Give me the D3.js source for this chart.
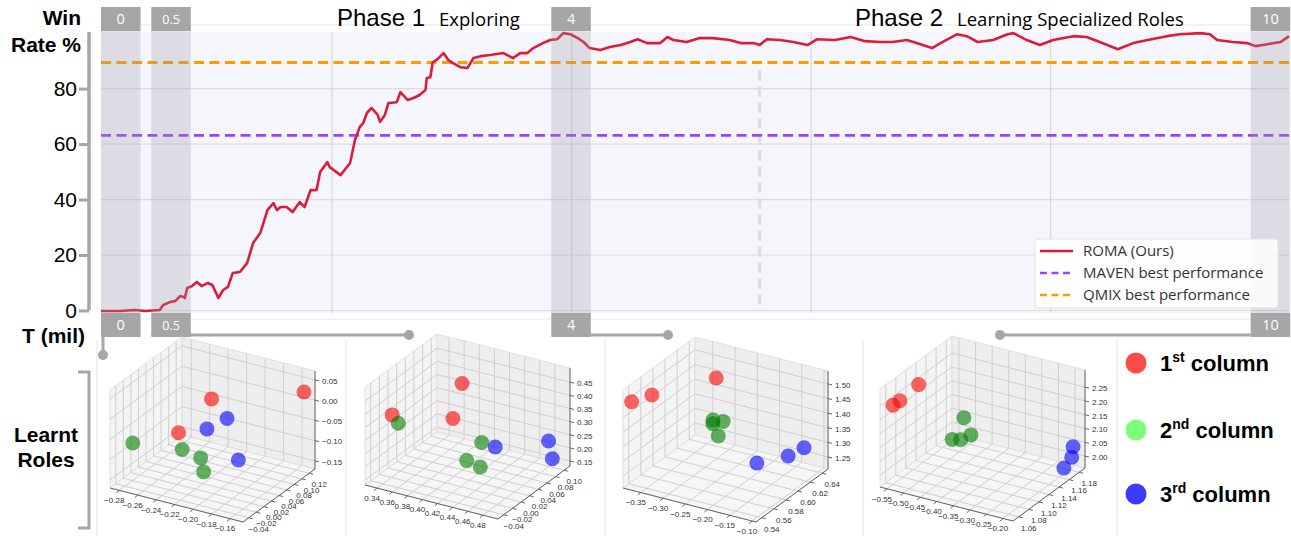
<!DOCTYPE html>
<html>
<head>
<meta charset="utf-8">
<title>ROMA win rate and learnt roles</title>
<script src="https://cdn.jsdelivr.net/npm/d3@7/dist/d3.min.js"></script>
<style>
  body { margin: 0; background: #fff; }
  svg text { font-family: "Liberation Sans", Arial, sans-serif; }
</style>
</head>
<body>
<div id="container"></div>
<script>

    // ---- data ----
    const timeMil = [
        0.07,0.23,0.35,0.44,0.56,0.59,0.65,0.69,0.73,0.76,
        0.77,0.79,0.83,0.87,0.91,0.96,1.00,1.05,1.09,1.13,
        1.17,1.23,1.29,1.34,1.40,1.46,1.51,1.54,1.57,1.62,
        1.67,1.73,1.77,1.82,1.87,1.90,1.96,1.98,2.07,2.15,
        2.19,2.23,2.26,2.29,2.33,2.38,2.40,2.44,2.47,2.54,
        2.57,2.63,2.68,2.73,2.78,2.79,2.82,2.84,2.88,2.93,
        2.97,3.01,3.07,3.13,3.18,3.24,3.32,3.43,3.51,3.57,
        3.63,3.68,3.76,3.82,3.88,3.93,3.99,4.05,4.10,4.15,
        4.24,4.32,4.41,4.49,4.55,4.63,4.74,4.80,4.85,4.96,
        5.07,5.18,5.32,5.41,5.52,5.57,5.63,5.74,5.85,5.97,
        6.05,6.20,6.33,6.45,6.58,6.68,6.80,6.88,7.01,7.08,
        7.22,7.30,7.39,7.52,7.64,7.69,7.80,7.91,8.02,8.19,
        8.30,8.41,8.56,8.69,8.81,8.97,9.08,9.25,9.33,9.39,
        9.52,9.64,9.71,9.81,9.92,9.99
    ];
    const winRate = [
        -0.2,-0.2,0.2,-0.2,0.2,2.0,3.1,3.4,5.2,4.9,
        4.5,8.1,8.8,10.3,8.8,9.9,9.2,4.5,7.4,8.5,
        13.5,13.9,17.1,24.3,27.9,36.2,38.7,36.2,37.3,37.3,
        35.5,39.1,37.3,43.4,43.4,49.9,53.5,51.7,48.8,53.2,
        61.4,66.1,67.6,71.2,73.0,70.5,68.0,70.5,74.8,75.1,
        78.7,75.9,76.6,77.7,79.5,83.8,84.1,89.5,90.6,92.8,
        90.3,89.2,87.7,87.4,91.0,91.7,92.1,92.8,91.0,92.8,
        92.8,94.6,96.4,97.5,97.8,100.0,99.6,98.2,96.8,94.6,
        93.9,95.0,95.7,96.8,97.8,96.4,96.4,98.6,97.5,96.8,
        98.2,98.2,97.5,96.4,96.4,95.7,97.8,97.5,96.8,95.7,
        97.8,97.5,98.6,97.1,96.8,96.8,97.5,96.4,94.6,96.4,
        99.6,98.9,96.8,97.5,99.6,100.0,97.5,95.7,97.5,98.9,
        98.6,96.8,94.2,96.4,97.5,98.9,99.6,100.0,99.6,97.5,
        96.8,96.4,95.3,96.0,96.8,98.9
    ];
    const mavenBest = 63.1;
    const qmixBest = 89.4;
    const phaseSplit = 5.57;

    const yTickValues = [0, 20, 40, 60, 80];
    const xGridValues = [2, 4, 6, 8];
    const snapshotLabels = ["0", "0.5", "4", "10"];
    const snapshotStart = [0.07, 0.49, 3.83, 9.67];
    const snapshotWidth = 0.33;
    const legendLabels = ["ROMA (Ours)", "MAVEN best performance", "QMIX best performance"];

    // learnt roles at each snapshot: [x, y, z, column]
    const rolesT0 = [
        [-0.150, 0.116, 0.031, 0], [-0.219, 0.040, 0.026, 0], [-0.247, 0.021, -0.061, 0],
        [-0.281, -0.017, -0.080, 1], [-0.243, 0.021, -0.100, 1], [-0.223, 0.021, -0.109, 1], [-0.212, 0.002, -0.124, 1],
        [-0.210, 0.059, -0.030, 2], [-0.224, 0.040, -0.051, 2], [-0.190, 0.040, -0.108, 2]
    ];
    const rolesT05 = [
        [0.386, 0.063, 0.422, 0], [0.341, -0.020, 0.370, 0], [0.383, 0.047, 0.306, 0],
        [0.349, -0.020, 0.344, 1], [0.412, 0.063, 0.217, 1], [0.411, 0.030, 0.187, 1], [0.429, 0.030, 0.176, 1],
        [0.439, 0.047, 0.239, 2], [0.481, 0.097, 0.232, 2], [0.486, 0.097, 0.168, 2]
    ];
    const rolesT4 = [
        [-0.378, 0.536, 1.500, 0], [-0.357, 0.554, 1.504, 0], [-0.294, 0.614, 1.495, 0],
        [-0.285, 0.602, 1.373, 1], [-0.277, 0.596, 1.373, 1], [-0.262, 0.602, 1.377, 1], [-0.265, 0.596, 1.336, 1],
        [-0.170, 0.590, 1.289, 2], [-0.116, 0.602, 1.316, 2], [-0.113, 0.626, 1.309, 2]
    ];
    const rolesT10 = [
        [-0.543, 1.056, 2.252, 0], [-0.533, 1.063, 2.262, 0], [-0.519, 1.091, 2.287, 0],
        [-0.448, 1.134, 2.131, 1], [-0.462, 1.120, 2.067, 1], [-0.436, 1.120, 2.074, 1], [-0.416, 1.127, 2.088, 1],
        [-0.184, 1.177, 2.049, 2], [-0.188, 1.177, 2.010, 2], [-0.201, 1.170, 1.976, 2]
    ];

    // axis limits and ticks of each 3d panel
    const xLims3d = [[-0.290, -0.146], [0.324, 0.500], [-0.390, -0.091], [-0.571, -0.170]];
    const yLims3d = [[-0.0552, 0.1353], [-0.0533, 0.1134], [0.5305, 0.6495], [1.0486, 1.1915]];
    const zLims3d = [[-0.170, 0.072], [0.131, 0.504], [1.209, 1.544], [1.957, 2.312]];
    const xTicks3d = [
        [-0.28, -0.26, -0.24, -0.22, -0.20, -0.18, -0.16],
        [0.34, 0.36, 0.38, 0.40, 0.42, 0.44, 0.46, 0.48],
        [-0.35, -0.30, -0.25, -0.20, -0.15, -0.10],
        [-0.55, -0.50, -0.45, -0.40, -0.35, -0.30, -0.25, -0.20]
    ];
    const yTicks3d = [
        [-0.04, -0.02, 0.00, 0.02, 0.04, 0.06, 0.08, 0.10, 0.12],
        [-0.04, -0.02, 0.00, 0.02, 0.04, 0.06, 0.08, 0.10],
        [0.54, 0.56, 0.58, 0.60, 0.62, 0.64],
        [1.06, 1.08, 1.10, 1.12, 1.14, 1.16, 1.18]
    ];
    const zTicks3d = [
        [-0.15, -0.10, -0.05, 0.00, 0.05],
        [0.15, 0.20, 0.25, 0.30, 0.35, 0.40, 0.45],
        [1.25, 1.30, 1.35, 1.40, 1.45, 1.50],
        [2.00, 2.05, 2.10, 2.15, 2.20, 2.25]
    ];
    const columnLabels = [["1", "st"], ["2", "nd"], ["3", "rd"]];

    // ---- layout ----
    const width = 1291, height = 536;
    const grey = "#a6a6a6";
    const svg = d3.select("#container").append("svg")
        .attr("width", width)
        .attr("height", height);

    const x = d3.scaleLinear().domain([0.07, 9.99]).range([101, 1289]);
    const y = d3.scaleLinear().domain([-0.9, 100.4]).range([313, 32]);

    // faint frame lines
    svg.append("line").attr("x1", 101).attr("x2", 1290).attr("y1", 25).attr("y2", 25)
        .attr("stroke", "#e6e6ea").attr("stroke-width", 1);
    svg.append("line").attr("x1", 101).attr("x2", 1290).attr("y1", 319).attr("y2", 319)
        .attr("stroke", "#e6e6ea").attr("stroke-width", 1);

    // plot background
    svg.append("rect")
        .attr("x", x.range()[0]).attr("y", y.range()[1])
        .attr("width", x.range()[1] - x.range()[0])
        .attr("height", y.range()[0] - y.range()[1])
        .attr("fill", "#f5f6fc");

    // grid
    svg.selectAll(".hgrid").data(yTickValues).enter().append("line")
        .attr("class", "hgrid")
        .attr("x1", x.range()[0]).attr("x2", x.range()[1])
        .attr("y1", d => y(d)).attr("y2", d => y(d))
        .attr("stroke", "#dcdce0").attr("stroke-width", 1.2);
    svg.selectAll(".vgrid").data(xGridValues).enter().append("line")
        .attr("class", "vgrid")
        .attr("x1", d => x(d)).attr("x2", d => x(d))
        .attr("y1", y.range()[1]).attr("y2", y.range()[0])
        .attr("stroke", "#d8d8dc").attr("stroke-width", 1.2);

    // phase split
    svg.append("line")
        .attr("x1", x(phaseSplit)).attr("x2", x(phaseSplit))
        .attr("y1", y(86.5)).attr("y2", y(2))
        .attr("stroke", "#dddddd").attr("stroke-width", 3)
        .attr("stroke-dasharray", "10,6");

    // baselines
    svg.append("line")
        .attr("x1", x.range()[0]).attr("x2", x.range()[1])
        .attr("y1", y(mavenBest)).attr("y2", y(mavenBest))
        .attr("stroke", "#a040ff").attr("stroke-width", 2.8)
        .attr("stroke-dasharray", "10,5.5");
    svg.append("line")
        .attr("x1", x.range()[0]).attr("x2", x.range()[1])
        .attr("y1", y(qmixBest)).attr("y2", y(qmixBest))
        .attr("stroke", "#ff9a00").attr("stroke-width", 2.8)
        .attr("stroke-dasharray", "10,5.5");

    // ROMA curve
    const curve = d3.line()
        .x((d, i) => x(timeMil[i]))
        .y(d => y(d));
    svg.append("path")
        .datum(winRate)
        .attr("d", curve)
        .attr("fill", "none")
        .attr("stroke", "#dc1c3c")
        .attr("stroke-width", 2.6)
        .attr("stroke-linejoin", "round");

    // snapshot bands and their labels
    const snaps = snapshotLabels.map((l, i) => ({
        label: l, x0: x(snapshotStart[i]), x1: x(snapshotStart[i] + snapshotWidth)
    }));
    svg.selectAll(".band").data(snaps).enter().append("rect")
        .attr("class", "band")
        .attr("x", d => d.x0).attr("y", 31)
        .attr("width", d => d.x1 - d.x0).attr("height", 282)
        .attr("fill", "rgba(150,150,158,0.26)");
    [7, 313].forEach(top => {
        svg.selectAll(null).data(snaps).enter().append("rect")
            .attr("x", d => d.x0).attr("y", top)
            .attr("width", d => d.x1 - d.x0).attr("height", 24)
            .attr("fill", grey);
        svg.selectAll(null).data(snaps).enter().append("text")
            .attr("x", d => (d.x0 + d.x1) / 2).attr("y", top + 12)
            .attr("dy", "0.36em")
            .attr("text-anchor", "middle")
            .attr("fill", "#fff")
            .style("font-family", "'Open Sans', sans-serif")
            .style("font-size", d => d.label.length > 2 ? "12.5px" : "14.5px")
            .text(d => d.label);
    });

    // connectors from the bottom labels to the role panels
    const dotX = [103, 409, 668, 1000];
    const conn = svg.append("g").attr("stroke", grey).attr("stroke-width", 3).attr("fill", "none");
    conn.append("line").attr("x1", 103).attr("x2", 103).attr("y1", 337).attr("y2", 355);
    conn.append("line").attr("x1", snaps[1].x0).attr("x2", dotX[1]).attr("y1", 335).attr("y2", 335);
    conn.append("line").attr("x1", snaps[2].x1).attr("x2", dotX[2]).attr("y1", 335).attr("y2", 335);
    conn.append("line").attr("x1", snaps[3].x0).attr("x2", dotX[3]).attr("y1", 335).attr("y2", 335);
    svg.selectAll(".dot").data([[dotX[0], 355], [dotX[1], 335], [dotX[2], 335], [dotX[3], 335]])
        .enter().append("circle")
        .attr("cx", d => d[0]).attr("cy", d => d[1]).attr("r", 5)
        .attr("fill", grey);

    // legend
    const legend = svg.append("g").attr("transform", "translate(1035,239)");
    legend.append("rect").attr("width", 243).attr("height", 69).attr("rx", 3)
        .attr("fill", "rgba(255,255,255,0.85)").attr("stroke", "#e2e2e2");
    const legendStyles = [
        { color: "#dc1c3c", dash: null },
        { color: "#a040ff", dash: "7,4.5" },
        { color: "#ff9a00", dash: "7,4.5" }
    ];
    legendLabels.forEach((l, i) => {
        legend.append("line")
            .attr("x1", 5).attr("x2", 38).attr("y1", 12 + i * 22).attr("y2", 12 + i * 22)
            .attr("stroke", legendStyles[i].color).attr("stroke-width", 2.6)
            .attr("stroke-dasharray", legendStyles[i].dash);
        legend.append("text")
            .attr("x", 48).attr("y", 12 + i * 22).attr("dy", "0.35em")
            .attr("fill", "#333")
            .style("font-family", "'Open Sans', sans-serif")
            .style("font-size", "15px")
            .text(l);
    });

    // y axis
    const yAxis = svg.append("g")
        .attr("transform", "translate(89,0)")
        .call(d3.axisLeft(y).tickValues(yTickValues).tickSize(10).tickSizeOuter(0).tickPadding(2));
    yAxis.select(".domain").attr("stroke", grey).attr("stroke-width", 3.5)
        .attr("d", `M0,${y.range()[1]}V${y(0)}`);
    yAxis.selectAll(".tick line").attr("stroke", grey).attr("stroke-width", 3);
    yAxis.selectAll(".tick text")
        .style("font-family", "'Liberation Sans', Arial, sans-serif")
        .style("font-size", "21px").attr("fill", "#000");

    // axis titles and phase titles
    const bold = (txt, xx, yy, anchor) => svg.append("text")
        .attr("x", xx).attr("y", yy).attr("text-anchor", anchor)
        .style("font-weight", "bold").style("font-size", "21px").text(txt);
    bold("Win", 81, 25, "end");
    bold("Rate %", 81, 52, "end");
    bold("T (mil)", 85, 343, "end");
    bold("Learnt", 46, 442, "middle");
    bold("Roles", 46, 467, "middle");

    [["Phase 1", "Exploring", 337], ["Phase 2", "Learning Specialized Roles", 855]].forEach(p => {
        const t = svg.append("text").attr("x", p[2]).attr("y", 26);
        t.append("tspan").style("font-size", "24px").text(p[0]);
        t.append("tspan").attr("dx", 14)
            .style("font-family", "'Open Sans', sans-serif").style("font-size", "18.5px")
            .text(p[1]);
    });

    // roles bracket
    svg.append("path")
        .attr("d", "M78,372H89V528H78")
        .attr("fill", "none").attr("stroke", grey).attr("stroke-width", 3);

    // panel separators
    svg.selectAll(".sep").data([97, 346, 605, 863, 1117]).enter().append("line")
        .attr("x1", d => d).attr("x2", d => d).attr("y1", 340).attr("y2", 536)
        .attr("stroke", "#e2e2e2").attr("stroke-width", 1);

    // ---- 3d role panels ----
    const colColors = ["#ff0000", "#008000", "#0000ff"];
    const ex = [133, 34], ey = [72, -53], ez = [0, -98];
    const origins = [[110, 488], [365, 485], [623, 488], [880, 487]];
    const rolesAll = [rolesT0, rolesT05, rolesT4, rolesT10];
    const fmt = v => d3.format(".2f")(v).replace("-", "\u2212");

    function drawPanel(k) {
        const g = svg.append("g");
        const [ox, oy] = origins[k];
        const sx = d3.scaleLinear().domain(xLims3d[k]).range([0, 1]);
        const sy = d3.scaleLinear().domain(yLims3d[k]).range([0, 1]);
        const sz = d3.scaleLinear().domain(zLims3d[k]).range([0, 1]);
        const P = (a, b, c) => [ox + a * ex[0] + b * ey[0] + c * ez[0], oy + a * ex[1] + b * ey[1] + c * ez[1]];

        // panes
        const panes = [
            { pts: [[0, 0, 0], [0, 1, 0], [0, 1, 1], [0, 0, 1]], fill: "#f4f4f4" },
            { pts: [[0, 1, 0], [1, 1, 0], [1, 1, 1], [0, 1, 1]], fill: "#eeeeee" },
            { pts: [[0, 0, 0], [1, 0, 0], [1, 1, 0], [0, 1, 0]], fill: "#f6f6f6" }
        ];
        g.selectAll(".pane").data(panes).enter().append("polygon")
            .attr("points", d => d.pts.map(p => P(...p).join(",")).join(" "))
            .attr("fill", d => d.fill)
            .attr("stroke", "#e0e0e0").attr("stroke-width", 1);

        // grid lines on the panes
        const grid = g.append("g").attr("stroke", "#cfcfcf").attr("stroke-width", 1);
        const gl = (p, q) => grid.append("line")
            .attr("x1", p[0]).attr("y1", p[1]).attr("x2", q[0]).attr("y2", q[1]);
        xTicks3d[k].forEach(v => {
            const a = sx(v);
            gl(P(a, 0, 0), P(a, 1, 0));
            gl(P(a, 1, 0), P(a, 1, 1));
        });
        yTicks3d[k].forEach(v => {
            const b = sy(v);
            gl(P(0, b, 0), P(1, b, 0));
            gl(P(0, b, 0), P(0, b, 1));
        });
        zTicks3d[k].forEach(v => {
            const c = sz(v);
            gl(P(0, 0, c), P(0, 1, c));
            gl(P(0, 1, c), P(1, 1, c));
        });

        // axis lines and ticks
        const ax = g.append("g").attr("stroke", "#555").attr("stroke-width", 0.9);
        const al = (p, q) => ax.append("line")
            .attr("x1", p[0]).attr("y1", p[1]).attr("x2", q[0]).attr("y2", q[1]);
        al(P(0, 0, 0), P(1, 0, 0));
        al(P(1, 0, 0), P(1, 1, 0));
        al(P(1, 1, 0), P(1, 1, 1));

        const labels = g.append("g")
            .style("font-family", "'DejaVu Sans', sans-serif")
            .style("font-size", "8px")
            .attr("fill", "#333");
        xTicks3d[k].forEach(v => {
            const p = P(sx(v), 0, 0);
            al(p, [p[0] - 3, p[1] + 2.5]);
            labels.append("text").attr("x", p[0] - 5).attr("y", p[1] + 10)
                .attr("dy", "0.35em").attr("text-anchor", "middle").text(fmt(v));
        });
        yTicks3d[k].forEach(v => {
            const p = P(1, sy(v), 0);
            al(p, [p[0] + 4, p[1] + 1]);
            labels.append("text").attr("x", p[0] + 10).attr("y", p[1] + 11)
                .attr("dy", "0.35em").attr("text-anchor", "middle").text(fmt(v));
        });
        zTicks3d[k].forEach(v => {
            const p = P(1, 1, sz(v));
            al(p, [p[0] + 4, p[1] + 1]);
            labels.append("text").attr("x", p[0] + 7).attr("y", p[1] + 1)
                .attr("dy", "0.35em").attr("text-anchor", "start").text(fmt(v));
        });

        // role points, far ones first
        const pts = rolesAll[k].map(d => {
            const a = sx(d[0]), b = sy(d[1]), c = sz(d[2]);
            return { s: P(a, b, c), near: 0.433 * a - 0.75 * b, col: d[3] };
        }).sort((p, q) => p.near - q.near);
        g.selectAll(".role").data(pts).enter().append("circle")
            .attr("cx", d => d.s[0]).attr("cy", d => d.s[1]).attr("r", 7.5)
            .attr("fill", d => colColors[d.col]).attr("fill-opacity", 0.6);
    }
    d3.range(4).forEach(drawPanel);

    // column legend
    const legendColors = ["#ff4a4a", "#7dff7d", "#3c3cff"];
    const colY = [363, 430, 494];
    columnLabels.forEach((c, i) => {
        svg.append("circle").attr("cx", 1136).attr("cy", colY[i]).attr("r", 10.5)
            .attr("fill", legendColors[i]);
        const t = svg.append("text").attr("x", 1160).attr("y", colY[i] + 8)
            .style("font-weight", "bold").style("font-size", "22px");
        t.append("tspan").text(c[0]);
        t.append("tspan").attr("dy", -9).style("font-size", "14px").text(c[1]);
        t.append("tspan").attr("dy", 9).text(" column");
    });

</script>
</body>
</html>
